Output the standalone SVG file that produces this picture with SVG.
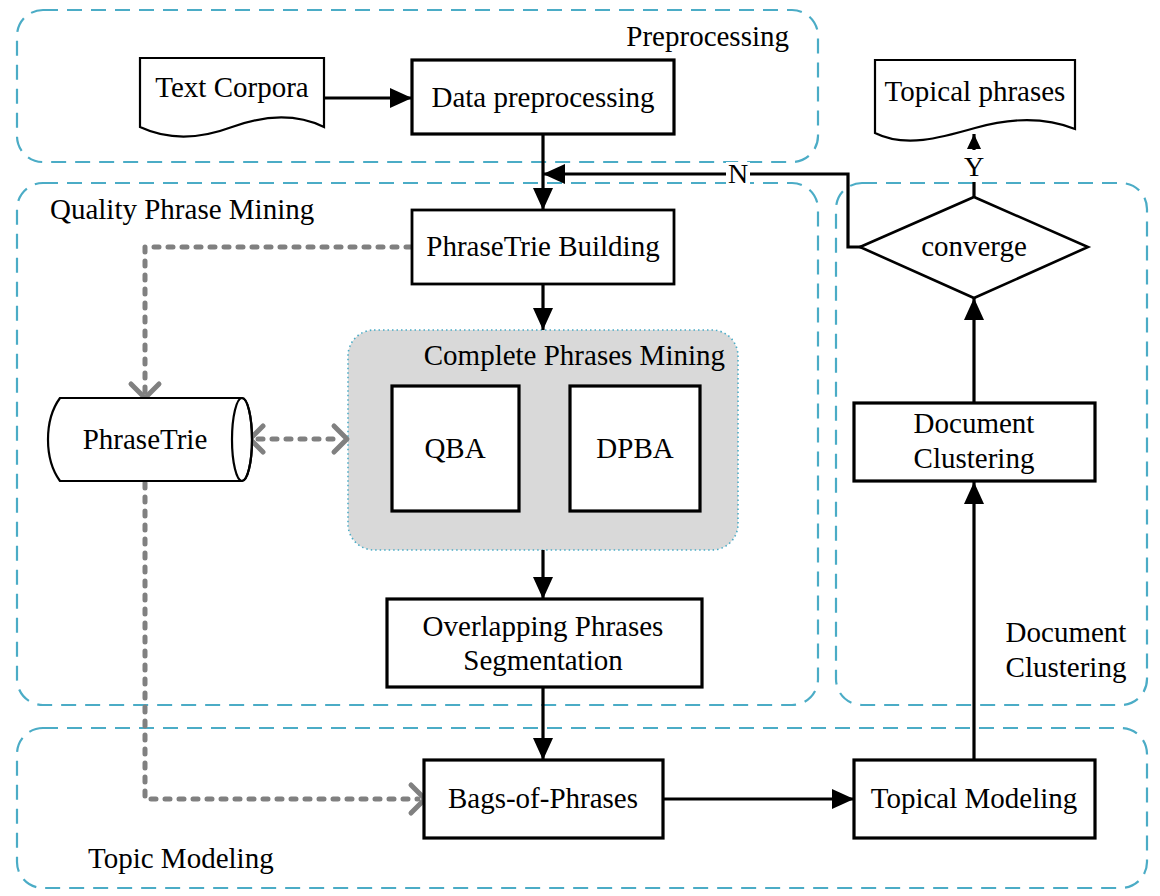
<svg xmlns="http://www.w3.org/2000/svg" width="1160" height="896" viewBox="0 0 1160 896">
<style>
text{font-family:"Liberation Serif","Times New Roman",serif;font-size:29px;fill:#000}
.c{text-anchor:middle}
.grp{fill:none;stroke:#4bacc6;stroke-width:2.2;stroke-dasharray:15 9}
.box{fill:#fff;stroke:#000;stroke-width:3.2}
.thin{fill:#fff;stroke:#000;stroke-width:2.2}
.ln{fill:none;stroke:#000;stroke-width:3.2}
.gd{fill:none;stroke:#808080;stroke-width:5;stroke-dasharray:5 9;stroke-linecap:round}
.chev{fill:none;stroke:#808080;stroke-width:5;stroke-linecap:round;stroke-linejoin:round}
</style>
<defs>
<marker id="ah" markerWidth="22" markerHeight="20" refX="22" refY="10" orient="auto" markerUnits="userSpaceOnUse">
<path d="M0,0 L22,10 L0,20 Z" fill="#000"/>
</marker>
<marker id="ahs" markerWidth="15" markerHeight="14" refX="15" refY="7" orient="auto" markerUnits="userSpaceOnUse">
<path d="M0,0 L15,7 L0,14 Z" fill="#000"/>
</marker>
</defs>
<rect width="1160" height="896" fill="#fff"/>

<g id="groups">
<rect class="grp" x="17" y="10" width="801" height="152" rx="26"/>
<rect class="grp" x="17" y="183" width="801" height="522" rx="26"/>
<rect class="grp" x="836" y="183" width="311" height="522" rx="26"/>
<rect class="grp" x="17" y="728" width="1130" height="160" rx="26"/>
<text x="789" y="46" text-anchor="end">Preprocessing</text>
<text x="50" y="219">Quality Phrase Mining</text>
<text class="c" x="1066" y="642">Document</text>
<text class="c" x="1066" y="677">Clustering</text>
<text x="88" y="868">Topic Modeling</text>
</g>

<g id="cpm">
<rect x="348" y="330" width="390" height="220" rx="26" fill="#d9d9d9" stroke="#4bacc6" stroke-width="1.6" stroke-dasharray="1.5 3"/>
<text x="725" y="365" text-anchor="end">Complete Phrases Mining</text>
</g>

<g id="connectors">
<line class="ln" x1="324" y1="98" x2="412" y2="98" marker-end="url(#ah)"/>
<line class="ln" x1="543" y1="134" x2="543" y2="210" marker-end="url(#ah)"/>
<polyline class="ln" points="861,247 848,174 848,174" style="display:none"/>
<polyline class="ln" points="861,247 848,247 848,174 543,174" marker-end="url(#ah)"/>
<line class="ln" x1="543" y1="284" x2="543" y2="330" marker-end="url(#ah)"/>
<line class="ln" x1="543" y1="550" x2="543" y2="599" marker-end="url(#ah)"/>
<line class="ln" x1="543" y1="687" x2="543" y2="760" marker-end="url(#ah)"/>
<line class="ln" x1="663" y1="799" x2="854" y2="799" marker-end="url(#ah)"/>
<line class="ln" x1="974" y1="760" x2="974" y2="482" marker-end="url(#ah)"/>
<line class="ln" x1="974" y1="403" x2="974" y2="298" marker-end="url(#ah)"/>
<line class="ln" x1="974" y1="197" x2="974" y2="134" marker-end="url(#ahs)"/>
<rect x="962" y="150" width="24" height="32" fill="#fff"/>
<text class="c" x="974" y="176" style="font-size:28px">Y</text>
<rect x="726" y="162" width="24" height="22" fill="#fff"/>
<text class="c" x="738" y="183" style="font-size:28px">N</text>
<polyline class="gd" points="411,247 145,247 145,392"/>
<polyline class="chev" points="131,384 145,398 159,384"/>
<line class="gd" x1="258" y1="439" x2="342" y2="439"/>
<polyline class="chev" points="263,426 250,439 263,452"/>
<polyline class="chev" points="334,426 347,439 334,452"/>
<polyline class="gd" points="145,483 145,799 418,799"/>
<polyline class="chev" points="411,785 425,799 411,813"/>
</g>

<g id="text-corpora">
<path class="thin" d="M140,58 H324 V127 C295,113 265,115 232,127 C200,139 170,141 140,127 Z"/>
<text class="c" x="232" y="97">Text Corpora</text>
</g>

<g id="data-preprocessing">
<rect class="box" x="412" y="60" width="262" height="74"/>
<text class="c" x="543" y="107">Data preprocessing</text>
</g>

<g id="topical-phrases">
<path class="thin" d="M875,60 H1075 V129 C1045,117 1010,118 975,128 C940,138 905,148 875,133 Z"/>
<text class="c" x="975" y="101">Topical phrases</text>
</g>

<g id="converge">
<polygon class="thin" points="860,247 974,197 1088,247 974,298" style="stroke-width:2.6"/>
<text class="c" x="974" y="256">converge</text>
</g>

<g id="phrasetrie-building">
<rect class="box" x="412" y="210" width="262" height="74" style="stroke-width:2.8"/>
<text class="c" x="543" y="256">PhraseTrie Building</text>
</g>

<g id="phrasetrie">
<path class="thin" d="M60,398 H242 A10,41.5 0 0 1 242,481 H60 C52,470 48,455 48,439.5 C48,424 52,409 60,398 Z"/>
<ellipse cx="242" cy="439.5" rx="10" ry="41.5" fill="none" stroke="#000" stroke-width="2.2"/>
<text class="c" x="145" y="449">PhraseTrie</text>
</g>

<g id="qba">
<rect class="box" x="392" y="386" width="127" height="125"/>
<text class="c" x="455" y="458">QBA</text>
</g>

<g id="dpba">
<rect class="box" x="570" y="386" width="130" height="125"/>
<text class="c" x="635" y="458">DPBA</text>
</g>

<g id="overlapping">
<rect class="box" x="387" y="599" width="315" height="88"/>
<text class="c" x="543" y="636">Overlapping Phrases</text>
<text class="c" x="543" y="670">Segmentation</text>
</g>

<g id="bags">
<rect class="box" x="424" y="760" width="239" height="78"/>
<text class="c" x="543" y="808">Bags-of-Phrases</text>
</g>

<g id="topical-modeling">
<rect class="box" x="854" y="760" width="241" height="78"/>
<text class="c" x="974" y="808">Topical Modeling</text>
</g>

<g id="document-clustering">
<rect class="box" x="854" y="403" width="241" height="78"/>
<text class="c" x="974" y="433">Document</text>
<text class="c" x="974" y="468">Clustering</text>
</g>
</svg>
